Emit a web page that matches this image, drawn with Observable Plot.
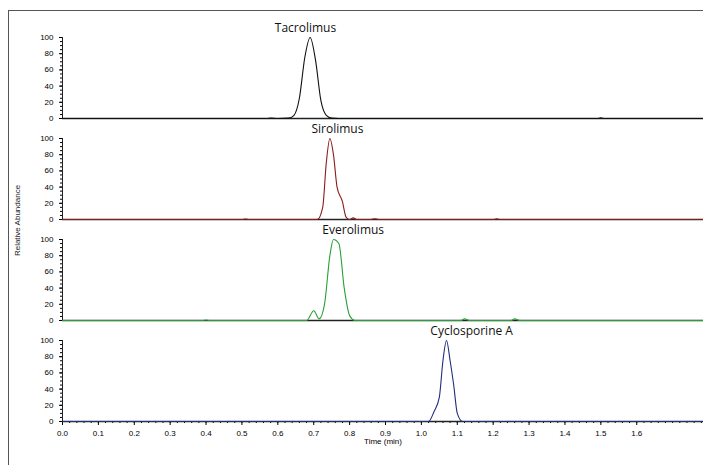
<!DOCTYPE html>
<html><head><meta charset="utf-8">
<script src="https://cdn.jsdelivr.net/npm/d3@7"></script>
<script src="https://cdn.jsdelivr.net/npm/@observablehq/plot@0.6"></script>
<style>
body{margin:0;background:#fff;font-family:"Liberation Sans",Arial,sans-serif}
#wrap{position:relative;width:703px;height:465px;overflow:hidden}
#frame{position:absolute;left:8px;top:10px;width:720px;height:480px;border:1px solid #555}
.panel{position:absolute;left:0;overflow:visible}
#ylab{position:absolute;left:-18px;top:216px;font-size:8px;transform:rotate(-90deg);color:#222}
</style></head>
<body><div id="wrap"><div id="frame"></div><div id="ylab">Relative Abundance</div></div>
<script>
// chromatogram traces (time in min, relative abundance %)
const tacrolimusT = [0, 0.57, 0.58, 0.60, 0.63, 0.645, 0.66, 0.675, 0.69, 0.705, 0.72, 0.735, 0.75, 0.77, 1.49, 1.50, 1.51, 1.8];
const tacrolimusY = [0, 0, 0.6, 0, 0.5, 4, 25, 75, 100, 72, 22, 4, 0.5, 0, 0, 0.8, 0, 0];
const sirolimusT = [0, 0.50, 0.51, 0.52, 0.71, 0.725, 0.735, 0.745, 0.755, 0.765, 0.78, 0.79, 0.80, 0.81, 0.82, 0.86, 0.87, 0.88, 1.20, 1.21, 1.22, 1.8];
const sirolimusY = [0, 0, 0.7, 0, 0, 15, 70, 100, 80, 40, 22, 3, 0, 2, 0, 0, 1, 0, 0, 0.8, 0, 0];
const everolimusT = [0, 0.39, 0.40, 0.41, 0.68, 0.70, 0.715, 0.73, 0.745, 0.755, 0.77, 0.785, 0.80, 0.815, 1.11, 1.12, 1.135, 1.25, 1.26, 1.275, 1.8];
const everolimusY = [0, 0, 0.6, 0, 0, 12, 2, 20, 80, 100, 95, 40, 6, 0, 0, 2, 0, 0, 2, 0, 0];
const cyclosporineT = [0, 1.02, 1.035, 1.05, 1.06, 1.07, 1.08, 1.09, 1.10, 1.115, 1.8];
const cyclosporineY = [0, 0, 12, 30, 75, 100, 75, 45, 10, 0, 0];

const names = ["Tacrolimus", "Sirolimus", "Everolimus", "Cyclosporine A"];
const labelX = [0.677, 0.766, 0.81, 1.14];
const colors = ["#111111", "#8b1a1a", "#27a035", "#1f2f7a"];
const traces = [[tacrolimusT, tacrolimusY], [sirolimusT, sirolimusY], [everolimusT, everolimusY], [cyclosporineT, cyclosporineY]];

const wrap = document.getElementById("wrap");
traces.forEach(([ts, ys], i) => {
  const last = i === traces.length - 1;
  const data = ts.map((t, k) => ({t, y: ys[k]}));
  const chart = Plot.plot({
    width: 703,
    height: last ? 150 : 101,
    marginLeft: 62, marginRight: 0, marginTop: 20, marginBottom: last ? 49 : 0,
    style: {fontSize: "8px", fontFamily: "Liberation Sans, Arial, sans-serif", background: "transparent", overflow: "visible"},
    x: {domain: [0, 1.786], axis: null},
    y: {domain: [0, 100], axis: null},
    marks: [
      Plot.axisY({ticks: d3.range(0, 101, 20), tickSize: 3, tickFormat: d => d, label: null}),
      Plot.axisY({ticks: d3.range(0, 101, 5), tickSize: 2, text: null, label: null}),
      last ? Plot.axisX({ticks: d3.range(0, 1.65, 0.1), tickSize: 4, tickFormat: d3.format(".1f"), label: "Time (min)", labelAnchor: "center", labelArrow: "none", labelOffset: 22}) : null,
      last ? Plot.axisX({ticks: d3.range(0, 1.79, 0.02), tickSize: 2, text: null, label: null}) : null,
      Plot.ruleX([0], {stroke: "#222"}),
      Plot.ruleY([0], {stroke: "#222", strokeWidth: 1.3}),
      Plot.line(data, {x: "t", y: "y", stroke: colors[i], strokeWidth: 1.1, curve: "monotone-x", clip: false}),
      Plot.text([names[i]], {x: labelX[i], y: 100, text: d => d, dy: -9, fontSize: 12, fill: "#111", fontFamily: "Open Sans, sans-serif"})
    ]
  });
  chart.classList.add("panel");
  chart.style.top = (17 + i * 101) + "px";
  wrap.appendChild(chart);
});
</script></body></html>
